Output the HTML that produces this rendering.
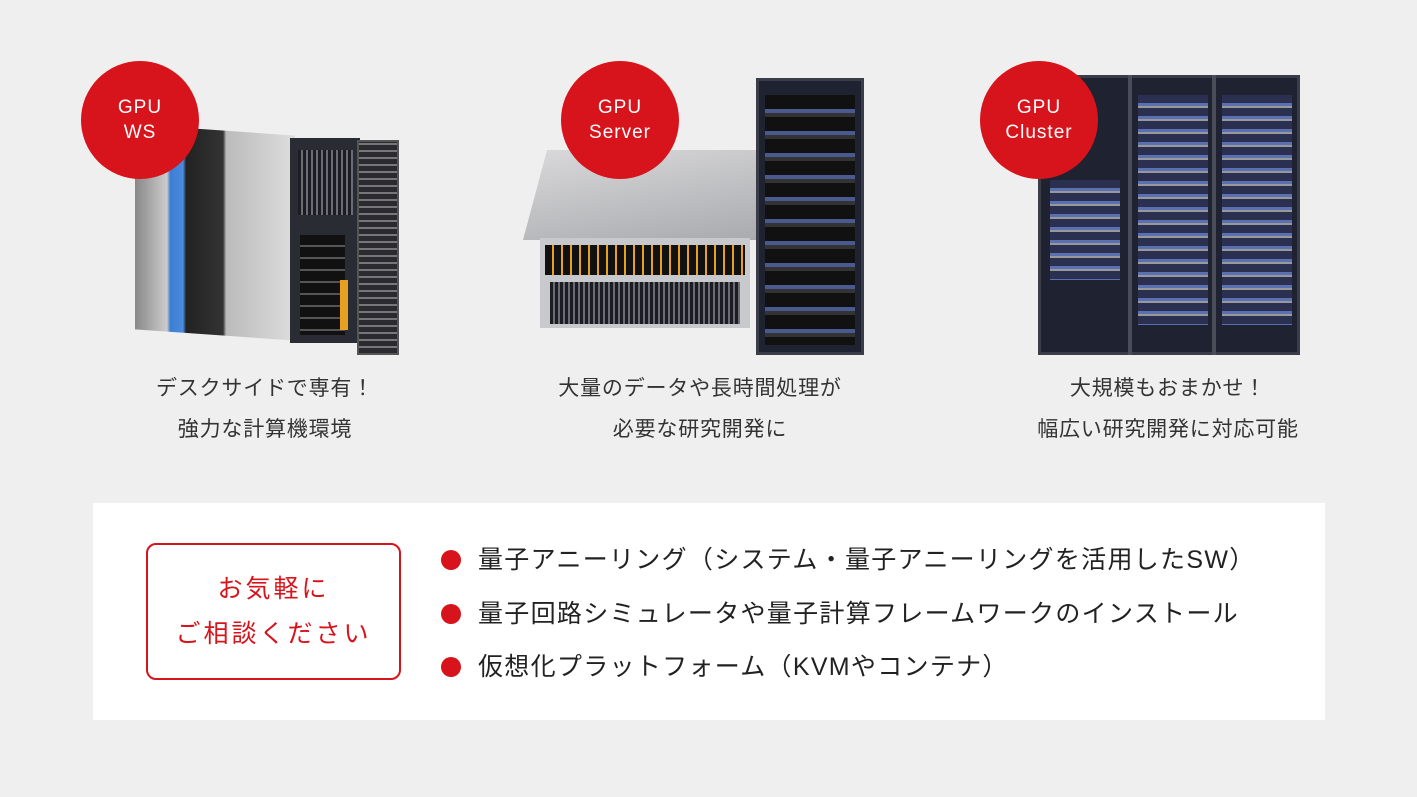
<!DOCTYPE html>
<html><head><meta charset="utf-8"><style>
*{margin:0;padding:0;box-sizing:border-box}
body{width:1417px;height:797px;background:#efefef;position:relative;overflow:hidden;font-family:"Liberation Sans","Noto Sans CJK JP",sans-serif;color:#333;font-weight:500}
.abs{position:absolute}
.circ{position:absolute;width:118px;height:118px;border-radius:50%;background:#d7141b;color:#fff;font-size:19px;line-height:25px;letter-spacing:1px;text-align:center;display:flex;align-items:center;justify-content:center;z-index:2;font-weight:400}
.cap{position:absolute;width:440px;text-align:center;font-size:21px;line-height:41px;letter-spacing:0.8px;color:#333;font-weight:400}
.dark{background:#2a2c33}
.grill{background:repeating-linear-gradient(90deg,#1c1d22 0 3px,#6b6d74 3px 5px)}
.rack{background:#1f2230;border:3px solid #3a3d48}
.li{position:absolute;left:441px;font-size:25px;letter-spacing:1.3px;color:#222;white-space:nowrap;line-height:32px;font-weight:400}
.li:before{content:"";position:absolute;left:0;top:6px;width:20px;height:20px;border-radius:50%;background:#d7141b}
.li span{margin-left:37px}
</style></head><body>
<div class="abs" style="left:135px;top:130px;width:160px;height:205px;background:linear-gradient(90deg,#888 0,#ccc 20%,#3c7fd0 22%,#4a8ae0 30%,#222 32%,#333 55%,#bbb 57%,#ddd 100%);transform:skewY(4deg)"></div>
<div class="abs dark" style="left:290px;top:138px;width:70px;height:205px"></div>
<div class="abs grill" style="left:298px;top:150px;width:55px;height:65px"></div>
<div class="abs" style="left:300px;top:235px;width:45px;height:100px;background:repeating-linear-gradient(180deg,#111 0 10px,#555 10px 12px)"></div>
<div class="abs" style="left:340px;top:280px;width:8px;height:50px;background:#e8a020"></div>
<div class="abs" style="left:357px;top:140px;width:42px;height:215px;background:repeating-linear-gradient(0deg,#2a2a30 0 5px,#777 5px 7px);border:2px solid #555"></div>
<div class="circ" style="left:81px;top:61px">GPU<br>WS</div>
<div class="abs" style="left:535px;top:150px;width:240px;height:90px;background:linear-gradient(170deg,#d8d8da,#a9aaad);transform:skewX(-15deg)"></div>
<div class="abs" style="left:540px;top:238px;width:210px;height:90px;background:#c8c9cc"></div>
<div class="abs" style="left:545px;top:245px;width:200px;height:30px;background:repeating-linear-gradient(90deg,#111 0 7px,#e8a020 7px 9px)"></div>
<div class="abs grill" style="left:550px;top:282px;width:190px;height:42px"></div>
<div class="abs rack" style="left:756px;top:78px;width:108px;height:277px"></div>
<div class="abs" style="left:765px;top:95px;width:90px;height:250px;background:repeating-linear-gradient(180deg,#111 0 14px,#4a5a90 14px 18px,#333 18px 22px)"></div>
<div class="circ" style="left:561px;top:61px">GPU<br>Server</div>
<div class="abs rack" style="left:1038px;top:75px;width:262px;height:280px"></div>
<div class="abs" style="left:1128px;top:75px;width:4px;height:280px;background:#4a4d58"></div>
<div class="abs" style="left:1212px;top:75px;width:4px;height:280px;background:#4a4d58"></div>
<div class="abs" style="left:1138px;top:95px;width:70px;height:230px;background:repeating-linear-gradient(180deg,#2b3050 0 8px,#5a70b0 8px 11px,#999 11px 13px)"></div>
<div class="abs" style="left:1222px;top:95px;width:70px;height:230px;background:repeating-linear-gradient(180deg,#2b3050 0 8px,#5a70b0 8px 11px,#999 11px 13px)"></div>
<div class="abs" style="left:1050px;top:180px;width:70px;height:100px;background:repeating-linear-gradient(180deg,#2b3050 0 8px,#5a70b0 8px 11px,#999 11px 13px)"></div>
<div class="circ" style="left:980px;top:61px">GPU<br>Cluster</div>
<div class="cap" style="left:45px;top:368px">デスクサイドで専有！<br>強力な計算機環境</div>
<div class="cap" style="left:480px;top:368px">大量のデータや長時間処理が<br>必要な研究開発に</div>
<div class="cap" style="left:948px;top:368px">大規模もおまかせ！<br>幅広い研究開発に対応可能</div>
<div class="abs" style="left:93px;top:503px;width:1232px;height:217px;background:#fff"></div>
<div class="abs" style="left:146px;top:543px;width:255px;height:137px;border:2px solid #d7141b;border-radius:10px;color:#d7141b;font-size:25px;letter-spacing:3px;line-height:45px;text-align:center;padding-top:22px;font-weight:400">お気軽に<br>ご相談ください</div>
<div class="li" style="top:544px"><span>量子アニーリング（システム・量子アニーリングを活用したSW）</span></div>
<div class="li" style="top:598px"><span>量子回路シミュレータや量子計算フレームワークのインストール</span></div>
<div class="li" style="top:651px"><span>仮想化プラットフォーム（KVMやコンテナ）</span></div>
</body></html>
